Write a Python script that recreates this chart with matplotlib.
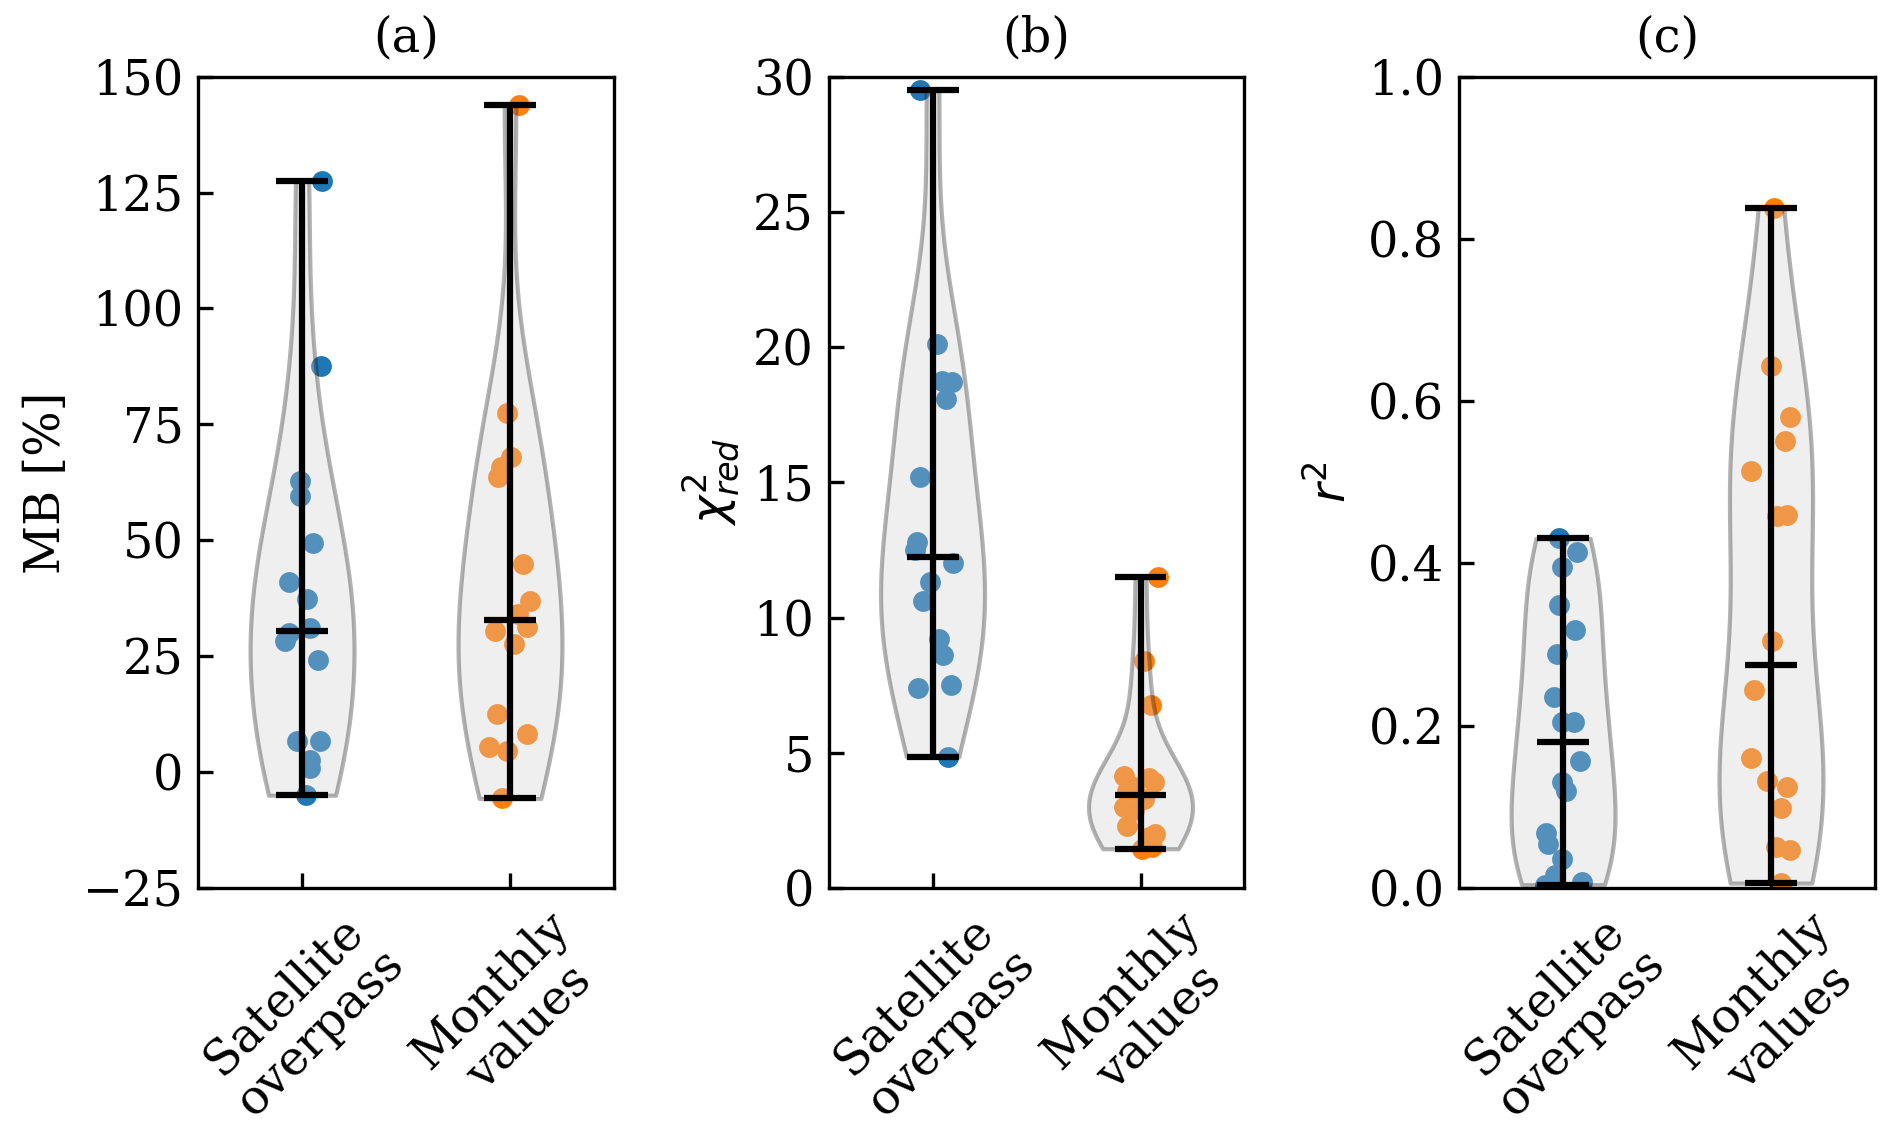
import matplotlib
matplotlib.use("Agg")
import matplotlib.pyplot as plt
import numpy as np

plt.rcParams['font.family'] = 'DejaVu Serif'
plt.rcParams['mathtext.fontset'] = 'dejavusans'
plt.rcParams['font.size'] = 11.5

categories = ['Satellite\noverpass', 'Monthly\nvalues']

# (a) MB [%]
mb_sat = [127.5, 87.6, 62.8, 59.6, 49.5, 41.1, 37.3, 31.0, 30.0, 28.2, 24.1, 6.8, 6.6, 2.5, 0.8, -5.0]
mb_sat_jit = [0.096, 0.092, -0.008, -0.008, 0.051, -0.061, 0.024, 0.04, -0.064, -0.084, 0.076, 0.084, -0.024, 0.04, 0.04, 0.019]
mb_mon = [143.9, 77.5, 68.0, 65.7, 63.6, 44.9, 36.8, 34.2, 31.3, 30.5, 27.6, 12.6, 8.3, 5.3, 4.5, -5.7]
mb_mon_jit = [0.045, -0.016, 0.005, -0.043, -0.059, 0.061, 0.096, 0.037, 0.082, -0.072, 0.018, -0.063, 0.082, -0.1, -0.016, -0.04]

# (b) reduced chi^2
chi_sat = [29.5, 20.1, 18.75, 18.7, 18.1, 15.2, 12.8, 12.5, 12.0, 11.3, 10.6, 9.2, 8.6, 7.5, 7.4, 4.85]
chi_sat_jit = [-0.058, 0.019, 0.043, 0.095, 0.064, -0.058, -0.077, -0.085, 0.096, -0.01, -0.048, 0.032, 0.051, 0.088, -0.069, 0.072]
chi_mon = [11.5, 8.4, 6.75, 4.15, 4.05, 3.9, 3.75, 3.6, 3.3, 3.0, 2.9, 2.3, 2.0, 1.9, 1.5, 1.45]
chi_mon_jit = [0.084, 0.016, 0.051, -0.077, 0.04, 0.064, -0.032, -0.064, 0.016, -0.08, -0.032, -0.064, 0.072, 0.04, 0.056, 0.008]

# (c) r^2
r2_sat = [0.431, 0.414, 0.396, 0.349, 0.318, 0.289, 0.236, 0.205, 0.204, 0.156, 0.130, 0.120, 0.068, 0.054, 0.036, 0.016, 0.004, 0.007]
r2_sat_jit = [-0.02, 0.069, -0.006, -0.02, 0.059, -0.029, -0.043, 0.053, -0.006, 0.082, -0.006, 0.016, -0.084, -0.073, -0.006, -0.039, -0.088, 0.092]
r2_mon = [0.838, 0.644, 0.580, 0.551, 0.514, 0.459, 0.460, 0.305, 0.244, 0.160, 0.132, 0.125, 0.098, 0.050, 0.047, 0.006]
r2_mon_jit = [0.014, 0.0, 0.092, 0.069, -0.098, 0.029, 0.078, 0.006, -0.084, -0.094, -0.02, 0.078, 0.049, 0.025, 0.092, 0.049]

panels = [
    ('(a)', 'MB [%]', mb_sat, mb_sat_jit, mb_mon, mb_mon_jit, (-25, 150), np.arange(-25, 151, 25)),
    ('(b)', r'$\chi^2_{red}$', chi_sat, chi_sat_jit, chi_mon, chi_mon_jit, (0, 30), np.arange(0, 31, 5)),
    ('(c)', r'$r^2$', r2_sat, r2_sat_jit, r2_mon, r2_mon_jit, (0, 1), np.arange(0, 1.01, 0.2)),
]

fig, axes = plt.subplots(1, 3, figsize=(1892 / 300, 1128 / 300), dpi=300)
fig.subplots_adjust(left=0.1047, right=0.991, top=0.932, bottom=0.2128, wspace=0.516)

for ax, (title, ylabel, sat, sat_j, mon, mon_j, ylim, yticks) in zip(axes, panels):
    # points first, violins drawn over them
    ax.scatter(1 + np.array(sat_j), sat, s=25, color='C0', linewidths=0)
    ax.scatter(2 + np.array(mon_j), mon, s=25, color='C1', linewidths=0)

    vp = ax.violinplot([sat, mon], positions=[1, 2], showmedians=True)
    for body in vp['bodies']:
        body.set_facecolor('#cdcdcd')
        body.set_edgecolor('black')
        body.set_linewidth(1.0)
        body.set_alpha(0.3)
    for key in ['cbars', 'cmins', 'cmaxes', 'cmedians']:
        vp[key].set_color('black')
        vp[key].set_linewidth(1.5)

    ax.set_title(title, fontsize=11.5)
    ax.set_ylabel(ylabel, labelpad=3)
    ax.set_ylim(*ylim)
    ax.set_yticks(yticks)
    ax.set_xlim(0.5, 2.5)
    ax.set_xticks([1, 2])
    ax.set_xticklabels(categories, rotation=45, ha='center', linespacing=1.15)
    ax.tick_params(direction='in', top=False, right=False)

axes[2].set_yticklabels(['0.0', '0.2', '0.4', '0.6', '0.8', '1.0'])

fig.savefig('out.png', dpi=300)
